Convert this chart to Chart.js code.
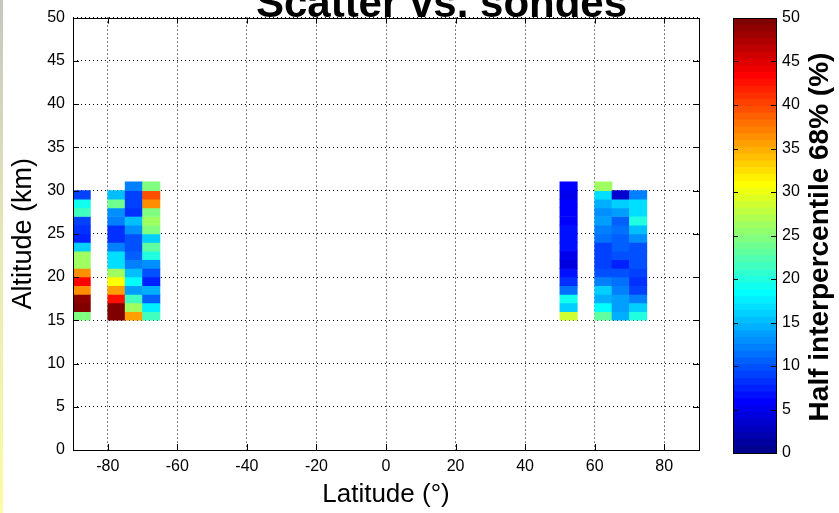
<!DOCTYPE html>
<html>
<head>
<meta charset="utf-8">
<title>Scatter vs. sondes</title>
<script src="https://cdn.jsdelivr.net/npm/chart.js@4.4.1/dist/chart.umd.min.js"></script>
<style>
  html, body { margin: 0; padding: 0; background: #fff; }
  #fig { position: relative; width: 839px; height: 513px; overflow: hidden; background: #fff; }
  #main { position: absolute; left: 0; top: 0; width: 720px; height: 513px; }
  #cbar { position: absolute; left: 700px; top: 0; width: 139px; height: 513px; }
  #edge { position: absolute; left: 0; top: 0; width: 3px; height: 513px;
          background: linear-gradient(#c6c6c0, #e9e9b8 50%, #fcfca2); }
</style>
</head>
<body>
<div id="fig">
  <canvas id="main" width="720" height="513"></canvas>
  <canvas id="cbar" width="139" height="513"></canvas>
  <div id="edge"></div>
</div>
<script>
// ---- data -------------------------------------------------------------
// Latitude bin centres (5 degree bins) that hold sonde comparisons
const latitudeCentres = [-87.5, -77.5, -72.5, -67.5, 52.5, 62.5, 67.5, 72.5];
// Lowest altitude of the first 1 km layer in every column
const lowestLayerKm = 15;
// Half interpercentile 68% (%) per 1 km layer, listed upward from 15 km
const spreadS87 = [24.6, 49.6, 49.2, 36.4, 43.1, 36.2, 26.0, 26.3, 15.8, 7.4, 8.2, 9.0, 21.6, 19.3, 8.8];
const spreadS77 = [49.4, 49.7, 42.8, 35.6, 30.9, 26.1, 16.9, 16.7, 12.2, 8.1, 8.3, 11.9, 13.0, 23.8, 15.6];
const spreadS72 = [35.5, 26.2, 21.5, 13.7, 18.5, 15.1, 12.2, 10.9, 9.4, 9.6, 13.1, 15.4, 8.2, 9.0, 8.9, 12.3];
const spreadS67 = [21.7, 17.9, 10.6, 14.6, 7.5, 10.1, 13.0, 19.9, 23.1, 16.1, 24.7, 26.4, 24.8, 36.4, 39.5, 24.5];
const spreadN52 = [28.5, 16.4, 19.3, 11.3, 8.1, 6.3, 4.4, 4.8, 7.0, 6.9, 6.4, 6.1, 5.9, 5.8, 5.2, 5.6];
const spreadN62 = [23.2, 18.6, 14.6, 16.2, 12.3, 9.4, 9.3, 9.0, 8.9, 11.4, 12.1, 13.3, 12.9, 14.1, 16.9, 26.3];
const spreadN67 = [14.5, 13.8, 13.6, 12.4, 11.6, 9.9, 7.5, 10.0, 10.7, 10.8, 11.5, 10.6, 13.3, 16.2, 3.6];
const spreadN72 = [19.8, 16.3, 12.4, 9.1, 8.3, 9.0, 9.9, 9.8, 10.0, 13.1, 14.9, 20.0, 16.8, 17.0, 12.2];
const spreadColumns = [spreadS87, spreadS77, spreadS72, spreadS67, spreadN52, spreadN62, spreadN67, spreadN72];

// Axis ticks
const latitudeTicks = [-80, -60, -40, -20, 0, 20, 40, 60, 80];
const altitudeTicks = [0, 5, 10, 15, 20, 25, 30, 35, 40, 45, 50];
const colourbarTicks = [0, 5, 10, 15, 20, 25, 30, 35, 40, 45, 50];

// ---- colour scale (64-level jet, 0..50 %) ------------------------------
const COLOUR_MIN = 0, COLOUR_MAX = 50, LEVELS = 64;

function jetLevel(i, m) {            // i is 1-based, as in jet(m)
  const n = Math.ceil(m / 4);
  const gOff = Math.ceil(n / 2) - (m % 4 === 1 ? 1 : 0);
  const u = k => {
    if (k < 1 || k > 3 * n - 1) return 0;
    if (k <= n) return k / n;
    if (k <= 2 * n - 1) return 1;
    return (3 * n - k) / n;
  };
  const r = u(i - gOff - n), g = u(i - gOff), b = u(i - gOff + n);
  return 'rgb(' + Math.round(r * 255) + ',' + Math.round(g * 255) + ',' + Math.round(b * 255) + ')';
}

function jetColour(v) {
  let i = Math.floor((v - COLOUR_MIN) / (COLOUR_MAX - COLOUR_MIN) * LEVELS) + 1;
  i = Math.max(1, Math.min(LEVELS, i));
  return jetLevel(i, LEVELS);
}

// ---- cells as floating bars ------------------------------------------
const cells = [];
spreadColumns.forEach((values, c) => {
  values.forEach((v, r) => {
    cells.push({ x: latitudeCentres[c], y: [lowestLayerKm + r, lowestLayerKm + r + 1], v: v });
  });
});

Chart.defaults.font.family = '"Liberation Sans", Arial, Helvetica, sans-serif';
Chart.defaults.color = '#000';

// Box, inward tick marks and the figure title
const axesFrame = {
  id: 'axesFrame',
  afterDatasetsDraw(chart, args, opts) {
    const { ctx, chartArea: a } = chart;
    ctx.save();
    ctx.strokeStyle = '#000';
    ctx.lineWidth = 1;
    const len = opts.tickLength;
    ctx.beginPath();
    if (opts.xTicks) {
      chart.scales.x.ticks.forEach(t => {
        const px = Math.round(chart.scales.x.getPixelForValue(t.value)) + 0.5;
        ctx.moveTo(px, a.bottom); ctx.lineTo(px, a.bottom - len);
        ctx.moveTo(px, a.top); ctx.lineTo(px, a.top + len);
      });
    }
    chart.scales.y.ticks.forEach(t => {
      const py = Math.round(chart.scales.y.getPixelForValue(t.value)) + 0.5;
      ctx.moveTo(a.left, py); ctx.lineTo(a.left + len, py);
      ctx.moveTo(a.right, py); ctx.lineTo(a.right - len, py);
    });
    ctx.stroke();
    ctx.strokeRect(Math.round(a.left) + 0.5, Math.round(a.top) + 0.5,
                   Math.round(a.right - a.left), Math.round(a.bottom - a.top));
    ctx.restore();
  },
  afterDraw(chart, args, opts) {
    if (!opts.title) return;
    const { ctx } = chart;
    const t = opts.title;
    ctx.save();
    ctx.fillStyle = '#000';
    ctx.font = t.font;
    ctx.textBaseline = t.baseline;
    ctx.textAlign = 'center';
    if (t.rotate) {
      ctx.translate(t.x, t.y);
      ctx.rotate(-Math.PI / 2);
      ctx.fillText(t.text, 0, 0);
    } else {
      ctx.fillText(t.text, t.x, t.y);
    }
    ctx.restore();
  }
};

new Chart(document.getElementById('main'), {
  type: 'bar',
  data: {
    datasets: [{
      data: cells,
      backgroundColor: ctx => jetColour(ctx.raw.v),
      borderWidth: 0,
      barPercentage: 1,
      categoryPercentage: 1
    }]
  },
  options: {
    responsive: false,
    animation: false,
    events: [],
    layout: { padding: { left: 0, right: 21, top: 17, bottom: 0 } },
    plugins: {
      legend: { display: false },
      tooltip: { enabled: false },
      axesFrame: {
        tickLength: 6,
        xTicks: true,
        title: { text: 'Scatter vs. sondes', font: 'bold 42px "Liberation Sans", Arial, sans-serif',
                 x: 441.5, y: 16.5, baseline: 'alphabetic', rotate: false }
      }
    },
    scales: {
      x: {
        type: 'linear', min: -90, max: 90, offset: false,
        afterBuildTicks: s => { s.ticks = latitudeTicks.map(v => ({ value: v })); },
        afterFit: s => { s.height = 63; },
        grid: { color: '#000', lineWidth: 1, drawTicks: false, offset: false },
        border: { display: false, dash: [1, 3] },
        ticks: { color: '#000', font: { size: 16 }, padding: 7, maxRotation: 0, callback: v => String(v) },
        title: { display: true, text: 'Latitude (°)', color: '#000', font: { size: 26 }, padding: { top: 0, bottom: 3 } }
      },
      y: {
        type: 'linear', min: 0, max: 50,
        afterBuildTicks: s => { s.ticks = altitudeTicks.map(v => ({ value: v })); },
        afterFit: s => { s.width = 73; },
        grid: { color: '#000', lineWidth: 1, drawTicks: false },
        border: { display: false, dash: [1, 3] },
        ticks: { color: '#000', font: { size: 16 }, padding: 8, callback: v => String(v) },
        title: { display: true, text: 'Altitude (km)', color: '#000', font: { size: 27 }, padding: { top: 7, bottom: 0 } }
      }
    }
  },
  plugins: [axesFrame]
});

// ---- colour bar -------------------------------------------------------
const levelDatasets = [];
for (let i = 1; i <= LEVELS; i++) {
  const lo = COLOUR_MIN + (i - 1) * (COLOUR_MAX - COLOUR_MIN) / LEVELS;
  const hi = COLOUR_MIN + i * (COLOUR_MAX - COLOUR_MIN) / LEVELS;
  levelDatasets.push({
    data: [[lo, hi]],
    backgroundColor: jetLevel(i, LEVELS),
    borderWidth: 0,
    grouped: false,
    barPercentage: 1,
    categoryPercentage: 1
  });
}

new Chart(document.getElementById('cbar'), {
  type: 'bar',
  data: { labels: [''], datasets: levelDatasets },
  options: {
    responsive: false,
    animation: false,
    events: [],
    layout: { padding: { left: 33, right: 0, top: 18, bottom: 60 } },
    plugins: {
      legend: { display: false },
      tooltip: { enabled: false },
      axesFrame: {
        tickLength: 5,
        xTicks: false,
        title: { text: 'Half interpercentile 68% (%)', font: 'bold 28px "Liberation Sans", Arial, sans-serif',
                 x: 120.6, y: 237, baseline: 'middle', rotate: true }
      }
    },
    scales: {
      x: { display: false },
      y: {
        position: 'right', min: COLOUR_MIN, max: COLOUR_MAX,
        afterBuildTicks: s => { s.ticks = colourbarTicks.map(v => ({ value: v })); },
        afterFit: s => { s.width = 63; },
        grid: { display: false, drawTicks: false },
        border: { display: false },
        ticks: { color: '#000', font: { size: 16 }, padding: 6, callback: v => String(v) }
      }
    }
  },
  plugins: [axesFrame]
});
</script>
</body>
</html>
